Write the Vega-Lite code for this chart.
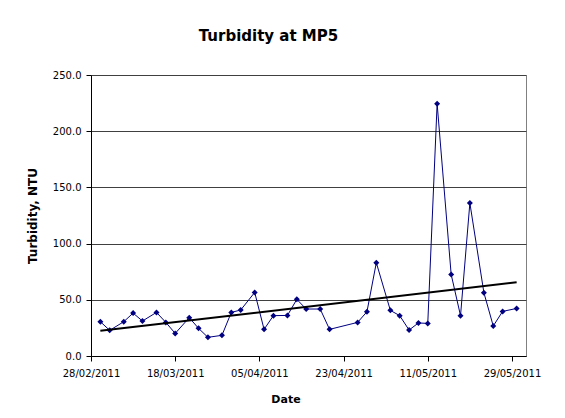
{
  "$schema": "https://vega.github.io/schema/vega-lite/v6.json",
  "width": 435,
  "height": 281,
  "autosize": "none",
  "padding": {"left": 91, "top": 75, "right": 39, "bottom": 62},
  "background": "white",
  "title": {
    "text": "Turbidity at MP5",
    "font": "DejaVu Sans",
    "fontSize": 15,
    "fontWeight": "bold",
    "color": "black",
    "anchor": "middle",
    "dx": -40,
    "offset": 26
  },
  "config": {
    "view": {"stroke": "#808080", "strokeWidth": 1},
    "axis": {
      "labelFont": "DejaVu Sans",
      "labelFontSize": 10,
      "labelColor": "black",
      "tickColor": "black",
      "tickSize": 5,
      "domainColor": "black",
      "titleFont": "DejaVu Sans",
      "titleFontSize": 11,
      "titleFontWeight": "bold",
      "titleColor": "black"
    }
  },
  "data": {
    "values": [
      {"date": "2011-03-02", "value": 30.5},
      {"date": "2011-03-04", "value": 22.8},
      {"date": "2011-03-07", "value": 30.5},
      {"date": "2011-03-09", "value": 38.2},
      {"date": "2011-03-11", "value": 31.1},
      {"date": "2011-03-14", "value": 38.8},
      {"date": "2011-03-16", "value": 29.9},
      {"date": "2011-03-18", "value": 20.1},
      {"date": "2011-03-21", "value": 34.1},
      {"date": "2011-03-23", "value": 24.6},
      {"date": "2011-03-25", "value": 16.6},
      {"date": "2011-03-28", "value": 18.4},
      {"date": "2011-03-30", "value": 38.8},
      {"date": "2011-04-01", "value": 40.9},
      {"date": "2011-04-04", "value": 56.6},
      {"date": "2011-04-06", "value": 23.7},
      {"date": "2011-04-08", "value": 35.9},
      {"date": "2011-04-11", "value": 36.1},
      {"date": "2011-04-13", "value": 50.4},
      {"date": "2011-04-15", "value": 41.8},
      {"date": "2011-04-18", "value": 41.8},
      {"date": "2011-04-20", "value": 23.7},
      {"date": "2011-04-26", "value": 29.9},
      {"date": "2011-04-28", "value": 39.4},
      {"date": "2011-04-30", "value": 83.0},
      {"date": "2011-05-03", "value": 40.6},
      {"date": "2011-05-05", "value": 35.9},
      {"date": "2011-05-07", "value": 23.1},
      {"date": "2011-05-09", "value": 29.4},
      {"date": "2011-05-11", "value": 29.0},
      {"date": "2011-05-13", "value": 224.5},
      {"date": "2011-05-16", "value": 72.6},
      {"date": "2011-05-18", "value": 35.9},
      {"date": "2011-05-20", "value": 136.1},
      {"date": "2011-05-23", "value": 56.3},
      {"date": "2011-05-25", "value": 26.7},
      {"date": "2011-05-27", "value": 39.7},
      {"date": "2011-05-30", "value": 42.3}
    ],
    "format": {"parse": {"date": "date"}}
  },
  "encoding": {
    "x": {
      "field": "date",
      "type": "temporal",
      "scale": {
        "type": "utc",
        "domain": [
          {"year": 2011, "month": 2, "date": 28, "utc": true},
          {"year": 2011, "month": 6, "date": 1, "utc": true}
        ]
      },
      "axis": {
        "title": "Date",
        "values": [
          {"year": 2011, "month": 2, "date": 28, "utc": true},
          {"year": 2011, "month": 3, "date": 18, "utc": true},
          {"year": 2011, "month": 4, "date": 5, "utc": true},
          {"year": 2011, "month": 4, "date": 23, "utc": true},
          {"year": 2011, "month": 5, "date": 11, "utc": true},
          {"year": 2011, "month": 5, "date": 29, "utc": true}
        ],
        "labelExpr": "utcFormat(datum.value, '%d/%m/%Y')",
        "grid": false,
        "labelPadding": 7,
        "labelFlush": false,
        "labelOverlap": false,
        "titleX": 194.5,
        "titleY": 46,
        "titleBaseline": "alphabetic"
      }
    },
    "y": {
      "field": "value",
      "type": "quantitative",
      "scale": {"domain": [0, 250], "nice": false, "zero": true},
      "axis": {
        "title": "Turbidity, NTU",
        "values": [0, 50, 100, 150, 200, 250],
        "format": ".1f",
        "grid": true,
        "gridColor": "#404040",
        "gridWidth": 1,
        "labelPadding": 5,
        "titleFontSize": 12,
        "titleX": -59,
        "titleY": 140.5,
        "titleAlign": "center",
        "titleBaseline": "middle",
        "titleAngle": -90
      }
    }
  },
  "layer": [
    {
      "mark": {
        "type": "line",
        "color": "#000080",
        "strokeWidth": 1,
        "point": {"shape": "diamond", "filled": true, "size": 36, "color": "#000080"}
      }
    },
    {
      "transform": [{"regression": "value", "on": "date"}],
      "mark": {"type": "line", "color": "black", "strokeWidth": 2}
    }
  ]
}
